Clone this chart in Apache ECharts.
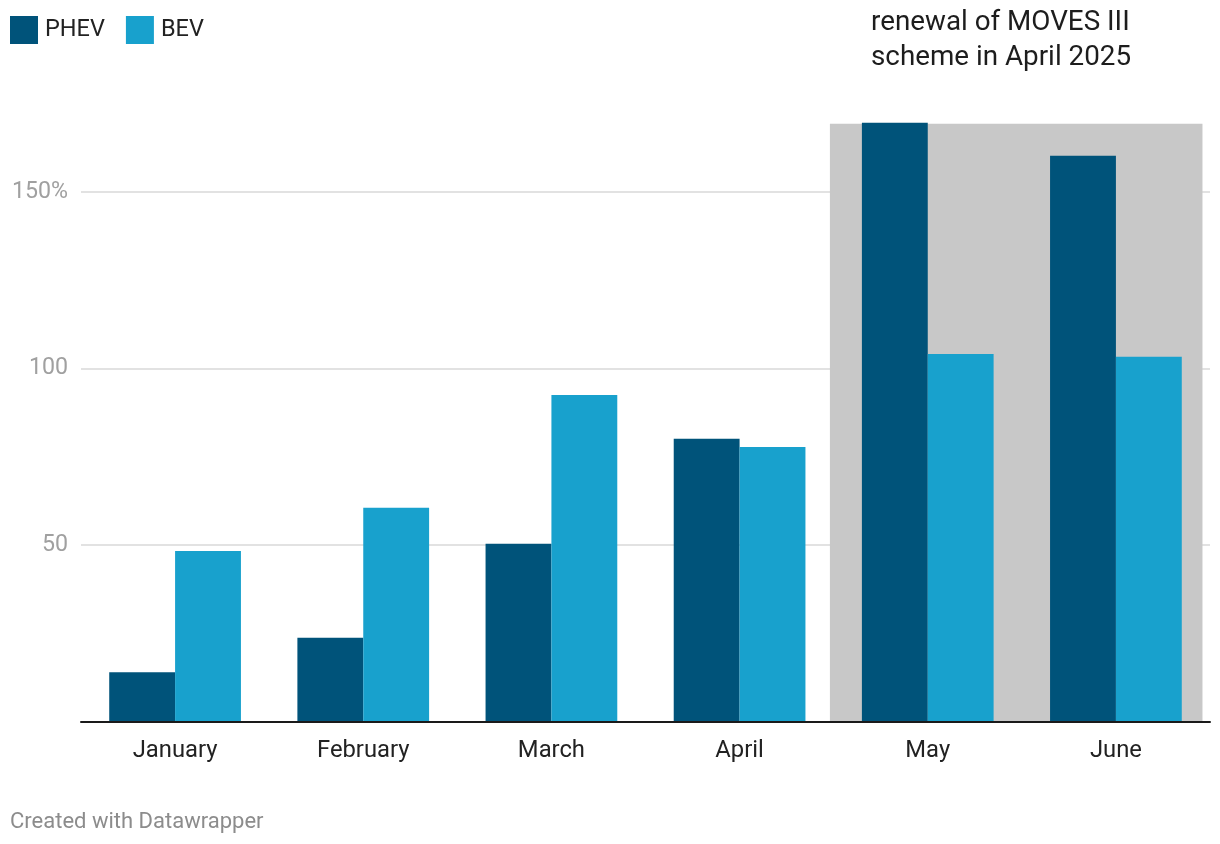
<!DOCTYPE html>
<html>
<head>
<meta charset="utf-8">
<script src="https://cdn.jsdelivr.net/npm/echarts@6/dist/echarts.min.js"></script>
<style>
html,body{margin:0;padding:0;background:#fff;}
#c{width:1220px;height:844px;}
</style>
</head>
<body>
<div id="c"></div>
<script>
const categories = ['January', 'February', 'March', 'April', 'May', 'June'];
const phev = [14.1, 23.8, 50.4, 80.1, 169.5, 160.2];
const bev = [48.4, 60.6, 92.5, 77.8, 104.1, 103.3];
const yTicks = [0, 50, 100, 150];
const shadeRange = [3.98, 5.96];   // category-position span of the highlighted period
const shadeTop = 169.2;
const annotation = 'renewal of MOVES III\nscheme in April 2025';

const chart = echarts.init(document.getElementById('c'), null, {renderer: 'canvas'});
const FONT = 'Roboto';
chart.setOption({
  backgroundColor: '#ffffff',
  animation: false,
  textStyle: {fontFamily: FONT},
  title: [
    {text: annotation, left: 866, top: 1,
     textStyle: {fontFamily: FONT, fontSize: 27.8, fontWeight: 'normal', color: '#1d1d1d', lineHeight: 35}},
    {text: 'Created with Datawrapper', left: 5, top: 806,
     textStyle: {fontFamily: FONT, fontSize: 22, fontWeight: 'normal', color: '#8c8c8c'}}
  ],
  legend: {
    data: ['PHEV', 'BEV'], left: 5, top: 11, itemWidth: 28, itemHeight: 28, itemGap: 21,
    icon: 'rect', selectedMode: false,
    textStyle: {fontFamily: FONT, fontSize: 23.5, color: '#222', padding: [0, 0, 0, 2]}
  },
  grid: {left: 81, right: 10, top: 121, bottom: 122, containLabel: false},
  xAxis: [
    {type: 'category', data: categories, z: 3,
     axisLine: {lineStyle: {color: '#1a1a1a', width: 2}},
     axisTick: {show: false},
     axisLabel: {fontFamily: FONT, fontSize: 23.8, color: '#222', margin: 17},
     splitLine: {show: false}},
    {type: 'value', min: 0, max: 6, show: false}
  ],
  yAxis: {
    type: 'value', min: 0, max: 170, interval: 50, z: 1,
    axisLine: {show: false}, axisTick: {show: false},
    axisLabel: {fontFamily: FONT, fontSize: 23.2, color: '#a0a0a0', margin: 13,
      showMinLabel: false, showMaxLabel: false,
      formatter: v => (yTicks.indexOf(v) < 0 || v === 0) ? '' : (v === 150 ? '150%' : String(v))},
    splitLine: {show: true, showMinLine: false, showMaxLine: false, lineStyle: {color: '#e2e2e2', width: 2}}
  },
  series: [
    {name: 'shade', type: 'line', xAxisIndex: 1, data: [], z: 0, silent: true,
     markArea: {silent: true, itemStyle: {color: '#c8c8c8'},
       data: [[{coord: [shadeRange[0], 0]}, {coord: [shadeRange[1], shadeTop]}]]}},
    {name: 'PHEV', type: 'bar', data: phev, barGap: '0%', barCategoryGap: '30%', z: 2,
     itemStyle: {color: '#00537a'}},
    {name: 'BEV', type: 'bar', data: bev, barGap: '0%', barCategoryGap: '30%', z: 2,
     itemStyle: {color: '#18a1cd'}}
  ]
});
</script>
</body>
</html>
